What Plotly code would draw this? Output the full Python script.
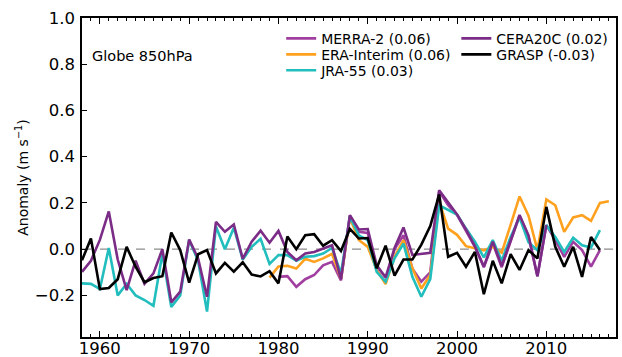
import plotly.graph_objects as go

years = list(range(1958, 2018))

# Global 850 hPa wind anomaly (m s-1); None = no data
jra55 = [-0.148, -0.15, -0.172, 0.005, -0.2, -0.15, -0.2, -0.22, -0.245, -0.02,
         -0.25, -0.2, 0.04, -0.05, -0.27, 0.098, 0.0, 0.093, -0.045, 0.01,
         0.045, -0.064, -0.026, -0.026, -0.05, -0.033, -0.03, -0.019, 0.005, -0.105,
         0.14, 0.06, 0.039, -0.098, -0.141, -0.04, 0.024, -0.12, -0.206, -0.13,
         0.19, 0.17, 0.15, 0.089, 0.032, -0.036, 0.039, -0.05, 0.053, 0.137,
         0.03, -0.005, 0.104, 0.053, -0.012, 0.05, 0.017, 0.007, 0.082, None]

cera20c = [-0.098, -0.05, 0.04, 0.163, -0.045, -0.177, -0.05, -0.15, -0.105, 0.0,
           -0.23, -0.184, 0.042, -0.04, -0.206, 0.118, 0.075, 0.107, -0.042, 0.032,
           0.08, 0.028, 0.079, -0.012, -0.048, -0.019, -0.012, 0.003, 0.017, -0.13,
           0.147, 0.085, 0.087, -0.07, -0.122, 0.005, 0.094, -0.025, -0.022, -0.016,
           0.255, 0.2, 0.15, 0.085, 0.012, -0.075, 0.032, -0.072, 0.035, 0.148,
           0.06, -0.117, 0.104, None, None, None, None, None, None, None]

merra2 = [None] * 22 + [
    -0.12, -0.117, -0.163, -0.13, -0.112, -0.07, -0.055, -0.135,
    0.145, 0.075, 0.07, -0.09, -0.145, 0.0, 0.06, -0.085, -0.141, -0.1,
    0.25, 0.19, 0.148, 0.08, 0.01, -0.078, 0.025, -0.078, 0.03, 0.145,
    0.055, -0.117, 0.104, 0.039, -0.033, 0.032, -0.004, -0.076, -0.004, None]

erai = [None] * 21 + [
    -0.123, -0.075, -0.072, -0.084, -0.042, -0.055, -0.04, -0.02, -0.127,
    0.135, 0.04, 0.01, -0.09, -0.151, -0.033, 0.039, -0.083, -0.17, -0.112,
    0.205, 0.089, 0.062, 0.013, 0.003, -0.005, 0.01, -0.015, 0.105, 0.228,
    0.145, -0.004, 0.215, 0.19, 0.075, 0.137, 0.147, 0.122, 0.2, 0.207]

grasp = [-0.048, 0.046, -0.173, -0.168, -0.13, 0.01, -0.076, -0.143, -0.125, -0.117,
         0.072, -0.004, -0.145, -0.022, -0.004, -0.105, -0.059, -0.097, -0.057, -0.11,
         -0.118, -0.095, -0.148, 0.055, 0.0, 0.06, 0.065, 0.015, 0.039, -0.008,
         0.088, 0.046, 0.048, -0.083, 0.015, -0.115, -0.045, -0.045, 0.02, 0.1,
         0.237, -0.033, -0.016, -0.076, -0.012, -0.195, -0.05, -0.148, -0.022, -0.09,
         -0.004, -0.04, 0.183, 0.01, -0.076, 0.01, -0.12, 0.053, -0.004, None]

# name, values, colour, legend id, legend x, legend y (paper)
series = [
    ("MERRA-2 (0.06)", merra2, "#a13fa0", "legend", 0.373, 0.985),
    ("ERA-Interim (0.06)", erai, "#ffa11f", "legend2", 0.373, 0.935),
    ("JRA-55 (0.03)", jra55, "#22bdbd", "legend3", 0.373, 0.885),
    ("CERA20C (0.02)", cera20c, "#7b2c87", "legend4", 0.701, 0.985),
    ("GRASP (-0.03)", grasp, "#000000", "legend5", 0.701, 0.935),
]

FONT = "DejaVu Sans"

fig = go.Figure()
for name, vals, color, lg, lx, ly in series:
    fig.add_trace(go.Scatter(
        x=years, y=vals, mode="lines", name=name,
        line=dict(color=color, width=2.6),
        connectgaps=False, legend=lg,
    ))

fig.add_shape(type="line", xref="paper", x0=0, x1=1, yref="y", y0=0, y1=0,
              line=dict(color="#8c8c8c", width=1.3, dash="dash"), layer="below")

fig.add_annotation(text="Globe 850hPa", xref="paper", yref="paper",
                   x=0.0145, y=0.881, xanchor="left", yanchor="middle",
                   showarrow=False, font=dict(family=FONT, size=14.5, color="black"))

legends = {}
for name, vals, color, lg, lx, ly in series:
    legends[lg] = dict(
        x=lx, y=ly, xanchor="left", yanchor="top", orientation="v",
        bgcolor="rgba(0,0,0,0)", borderwidth=0, itemwidth=30,
        font=dict(family=FONT, size=14, color="black"),
    )

fig.update_layout(
    width=622, height=357,
    margin=dict(l=82, r=6, t=18, b=20),
    paper_bgcolor="white", plot_bgcolor="white",
    font=dict(family=FONT, size=16, color="black"),
    showlegend=True,
    **legends,
    xaxis=dict(
        range=[1958, 2017.8], tickmode="linear", tick0=1960, dtick=10,
        ticks="inside", ticklen=6, tickwidth=1, tickcolor="black",
        minor=dict(dtick=1, tick0=1958, ticks="inside", ticklen=3, tickwidth=1, tickcolor="black"),
        showline=True, linecolor="black", linewidth=1.5, mirror="ticks",
        showgrid=False, zeroline=False, automargin=False,
        ticklabelstandoff=-5,
        tickfont=dict(family=FONT, size=16.5, color="black"),
    ),
    yaxis=dict(
        range=[-0.38, 1.0], tickmode="linear", tick0=0, dtick=0.2, tickformat=".1f",
        ticks="inside", ticklen=5, tickwidth=1, tickcolor="black",
        showline=True, linecolor="black", linewidth=1.5, mirror=True,
        showgrid=False, zeroline=False, automargin=False,
        ticklabelstandoff=2,
        tickfont=dict(family=FONT, size=16.5, color="black"),
        title=dict(text="Anomaly (m s<sup>\u22121</sup>)", standoff=3,
                   font=dict(family=FONT, size=14, color="black")),
    ),
)

fig.write_html("out.html", config={"displayModeBar": False},
               post_script="document.body.style.margin='0';")
